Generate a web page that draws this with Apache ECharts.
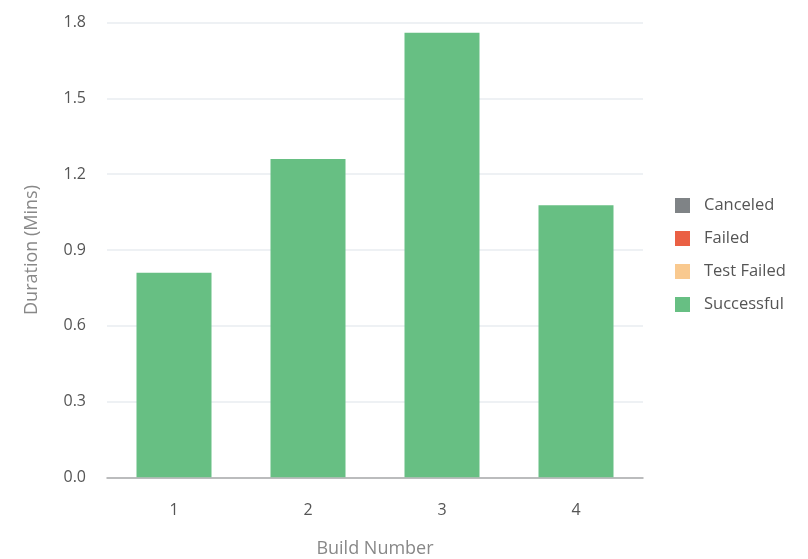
<!DOCTYPE html>
<html>
<head>
<meta charset="utf-8">
<script src="https://cdn.jsdelivr.net/npm/echarts@6/dist/echarts.min.js"></script>
<style>
  html, body { margin: 0; padding: 0; background: #fff; }
  #barChart { width: 808px; height: 559px; }
</style>
</head>
<body>
<div id="barChart"></div>
<script>
// build numbers on the x axis
const builds = ["1", "2", "3", "4"];
// durations in minutes, per status
const canceled = [0, 0, 0, 0];
const failed = [0, 0, 0, 0];
const testFailed = [0, 0, 0, 0];
const successful = [0.81, 1.26, 1.76, 1.077];
const yTicks = ["0.0", "0.3", "0.6", "0.9", "1.2", "1.5", "1.8"];

const font = "'Open Sans', 'Noto Sans', sans-serif";
let chart = echarts.init(document.getElementById("barChart"));

function seriesOf(name, data, color) {
  return {
    name: name,
    type: "bar",
    stack: "status",
    barWidth: 75,
    color: color,
    itemStyle: { color: color },
    data: data,
  };
}

let option = {
  animation: false,
  textStyle: { fontFamily: font },
  legend: {
    orient: "vertical",
    left: 670,
    top: 192,
    icon: "rect",
    itemWidth: 15,
    itemHeight: 15,
    itemGap: 16,
    data: ["Canceled", "Failed", "Test Failed", "Successful"],
    textStyle: { color: "#555", fontSize: 16.5, fontFamily: font, padding: [0, 0, 0, 9] },
  },
  grid: { left: 107, right: 165, top: 22.7, bottom: 81.7, outerBoundsMode: "none" },
  xAxis: {
    type: "category",
    data: builds,
    name: "Build Number",
    nameLocation: "middle",
    nameGap: 63,
    nameTextStyle: { color: "#888", fontSize: 18, fontFamily: font },
    axisLine: { lineStyle: { color: "#aaa", width: 1.5 } },
    axisTick: { show: false },
    axisLabel: { color: "#555", fontSize: 16, margin: 25, fontFamily: font },
  },
  yAxis: {
    type: "value",
    min: 0,
    max: 1.8,
    interval: 0.3,
    name: "Duration (Mins)",
    nameLocation: "middle",
    nameGap: 66,
    nameTextStyle: { color: "#888", fontSize: 18, fontFamily: font },
    axisLine: { show: false },
    axisTick: { show: false },
    splitLine: { lineStyle: { color: "#e8ecf1", width: 1.5 } },
    axisLabel: {
      color: "#555",
      fontSize: 16,
      margin: 21,
      fontFamily: font,
      formatter: (v) => yTicks[Math.round(v / 0.3)],
    },
  },
  series: [
    seriesOf("Canceled", canceled, "#7f8386"),
    seriesOf("Failed", failed, "#ea6044"),
    seriesOf("Test Failed", testFailed, "#f9c98f"),
    seriesOf("Successful", successful, "#67bf83"),
  ],
};
chart.setOption(option);
</script>
</body>
</html>
